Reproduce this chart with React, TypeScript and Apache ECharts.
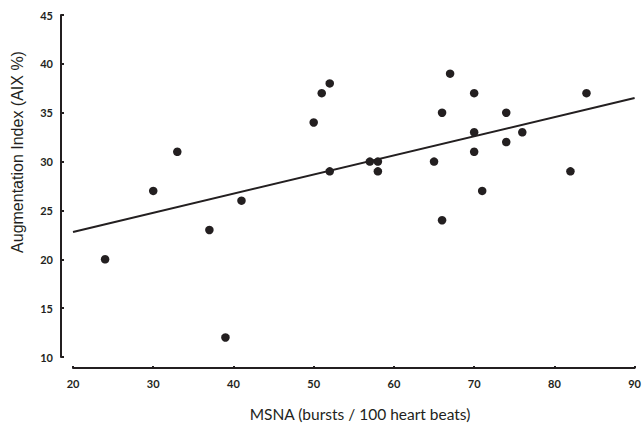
import React, { useEffect, useRef } from "react";
import * as echarts from "echarts";

const msna = [24, 30, 33, 37, 39, 41, 50, 51, 52, 52, 57, 58, 58, 65, 66, 66, 67, 70, 70, 70, 71, 74, 74, 76, 82, 84];
const aix = [20, 27, 31, 23, 12, 26, 34, 37, 38, 29, 30, 30, 29, 30, 35, 24, 39, 37, 33, 31, 27, 35, 32, 33, 29, 37];
const fitX = [20, 90];
const fitY = [22.8, 36.5];
const xTitle = "MSNA (bursts / 100 heart beats)";
const yTitle = "Augmentation Index (AIX %)";

const INK = "#231f20";

export default function App() {
  const ref = useRef<HTMLDivElement>(null);
  useEffect(() => {
    const chart = echarts.init(ref.current!, null, { renderer: "svg" });
    chart.setOption({
      animation: false,
      grid: { left: 73, right: 7, top: 15, bottom: 68 },
      xAxis: {
        type: "value",
        min: 20,
        max: 90,
        interval: 10,
        offset: 11,
        splitLine: { show: false },
        axisLine: { show: true, lineStyle: { color: INK, width: 2 } },
        axisTick: { show: true, inside: true, length: 2, lineStyle: { color: INK, width: 2 } },
        axisLabel: { color: INK, fontFamily: "Lato", fontWeight: "bold", fontSize: 11, margin: 10 },
      },
      yAxis: {
        type: "value",
        min: 10,
        max: 45,
        interval: 5,
        offset: 12,
        splitLine: { show: false },
        axisLine: { show: true, lineStyle: { color: INK, width: 2 } },
        axisTick: { show: true, inside: true, length: 3, lineStyle: { color: INK, width: 2 } },
        axisLabel: { color: INK, fontFamily: "Lato", fontWeight: "bold", fontSize: 11, margin: 8 },
      },
      graphic: [
        {
          type: "text",
          x: 17,
          y: 152,
          rotation: Math.PI / 2,
          style: {
            text: yTitle,
            fill: INK,
            font: "16px 'Liberation Sans'",
            textAlign: "center",
            textVerticalAlign: "middle",
          },
        },
        {
          type: "text",
          x: 360,
          y: 414,
          style: {
            text: xTitle,
            fill: INK,
            font: "15.5px Lato",
            textAlign: "center",
            textVerticalAlign: "middle",
          },
        },
      ],
      series: [
        {
          type: "line",
          data: fitX.map((x, i) => [x, fitY[i]]),
          showSymbol: false,
          lineStyle: { color: INK, width: 2 },
          z: 1,
        },
        {
          type: "scatter",
          data: msna.map((x, i) => [x, aix[i]]),
          symbolSize: 8.5,
          itemStyle: { color: INK, opacity: 1 },
          z: 2,
        },
      ],
    });
    return () => chart.dispose();
  }, []);
  return <div ref={ref} style={{ width: 644, height: 425, position: "absolute", left: 0, top: 0 }} />;
}
